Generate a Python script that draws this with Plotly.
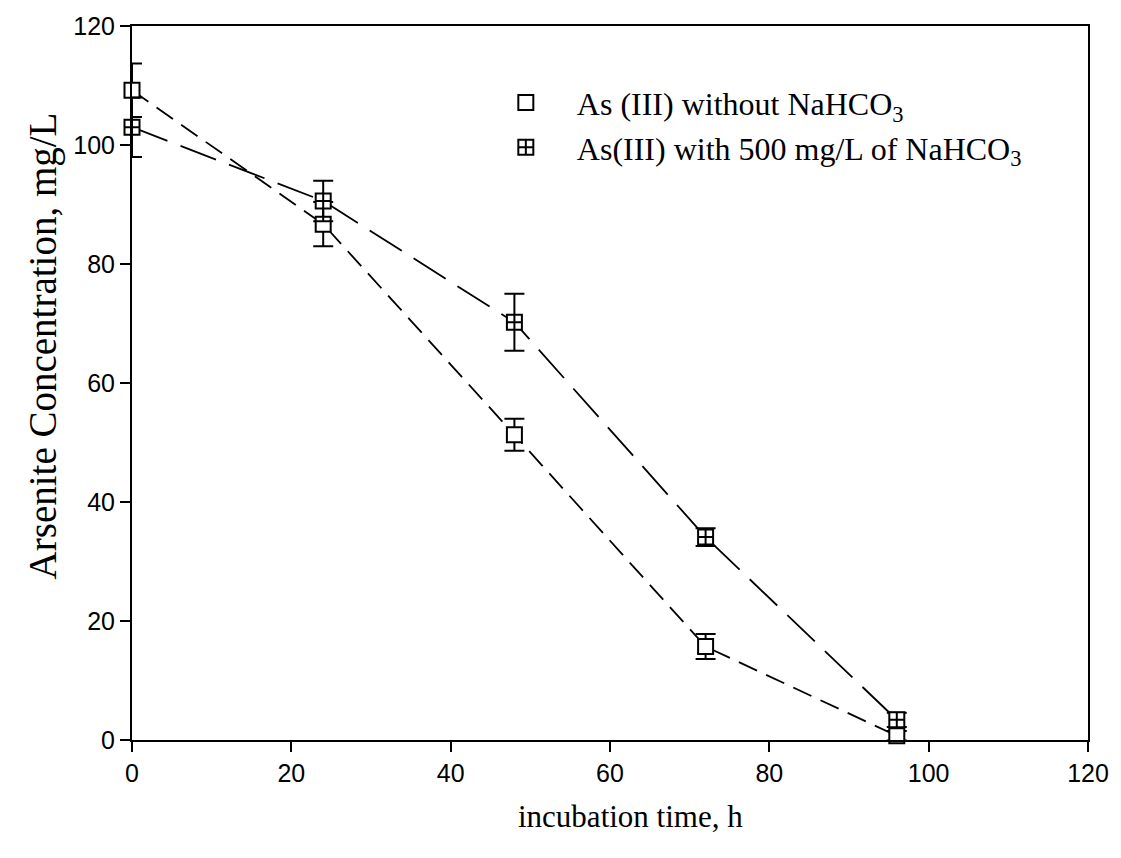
import plotly.graph_objects as go

time_h = [0, 24, 48, 72, 96]
without_nahco3 = [109.2, 86.7, 51.3, 15.7, 0.7]
without_err = [4.5, 3.7, 2.7, 2.1, 0.8]
with_nahco3 = [103.0, 90.6, 70.2, 34.1, 3.4]
with_err = [5.0, 3.4, 4.8, 1.5, 1.2]

series_names = ["As (III) without NaHCO<sub>3</sub>",
                "As(III) with 500 mg/L of NaHCO<sub>3</sub>"]
symbols = ["square", "square-cross"]
x_title = "incubation time, h"
y_title = "Arsenite Concentration, mg/L"

fig = go.Figure()
fig.add_trace(go.Scatter(
    x=time_h, y=without_nahco3, name=series_names[0], mode="lines+markers",
    showlegend=False, cliponaxis=False,
    line=dict(color="black", width=1.8, dash="20px,10px"),
    marker=dict(symbol=symbols[0], size=15, color="white", line=dict(color="black", width=2)),
    error_y=dict(type="data", array=without_err, color="black", thickness=2, width=10),
))
fig.add_trace(go.Scatter(
    x=time_h, y=with_nahco3, name=series_names[1], mode="lines+markers",
    showlegend=False, cliponaxis=False,
    line=dict(color="black", width=1.8, dash="38px,14px"),
    marker=dict(symbol=symbols[1], size=15, color="white", line=dict(color="black", width=2)),
    error_y=dict(type="data", array=with_err, color="black", thickness=2, width=10),
))
# legend-only entries (marker only, as in the reference)
for name, sym in zip(series_names, symbols):
    fig.add_trace(go.Scatter(
        x=[None], y=[None], name=name, mode="markers",
        marker=dict(symbol=sym, size=15, color="white", line=dict(color="black", width=2)),
    ))

axis_common = dict(showline=True, linecolor="black", linewidth=2, mirror=True,
                   ticks="outside", ticklen=10, tickwidth=2, tickcolor="black",
                   showgrid=False, zeroline=False,
                   tickfont=dict(family="Liberation Sans, Arial", size=25, color="black"))

fig.update_xaxes(range=[0, 120], tickvals=[0, 20, 40, 60, 80, 100, 120], **axis_common)
fig.update_yaxes(range=[0, 120], tickvals=[0, 20, 40, 60, 80, 100, 120], **axis_common)

fig.add_annotation(text=x_title, xref="paper", yref="paper", x=0.521, y=-0.1075,
                   xanchor="center", yanchor="middle", showarrow=False,
                   font=dict(family="Liberation Serif, Times New Roman", size=31, color="black"))
fig.add_annotation(text=y_title, xref="paper", yref="paper", x=-0.0936, y=0.552,
                   xanchor="center", yanchor="middle", showarrow=False, textangle=-90,
                   font=dict(family="Liberation Serif, Times New Roman", size=39, color="black"))

fig.update_layout(
    width=1121, height=858,
    margin=dict(l=132, r=27, t=24, b=118),
    paper_bgcolor="white", plot_bgcolor="white",
    showlegend=True,
    legend=dict(x=0.3586, y=0.931, xanchor="left", yanchor="top", bgcolor="rgba(0,0,0,0)",
                font=dict(family="Liberation Serif, Times New Roman", size=32, color="black"),
                itemwidth=92),
)

fig.write_html("out.html")
